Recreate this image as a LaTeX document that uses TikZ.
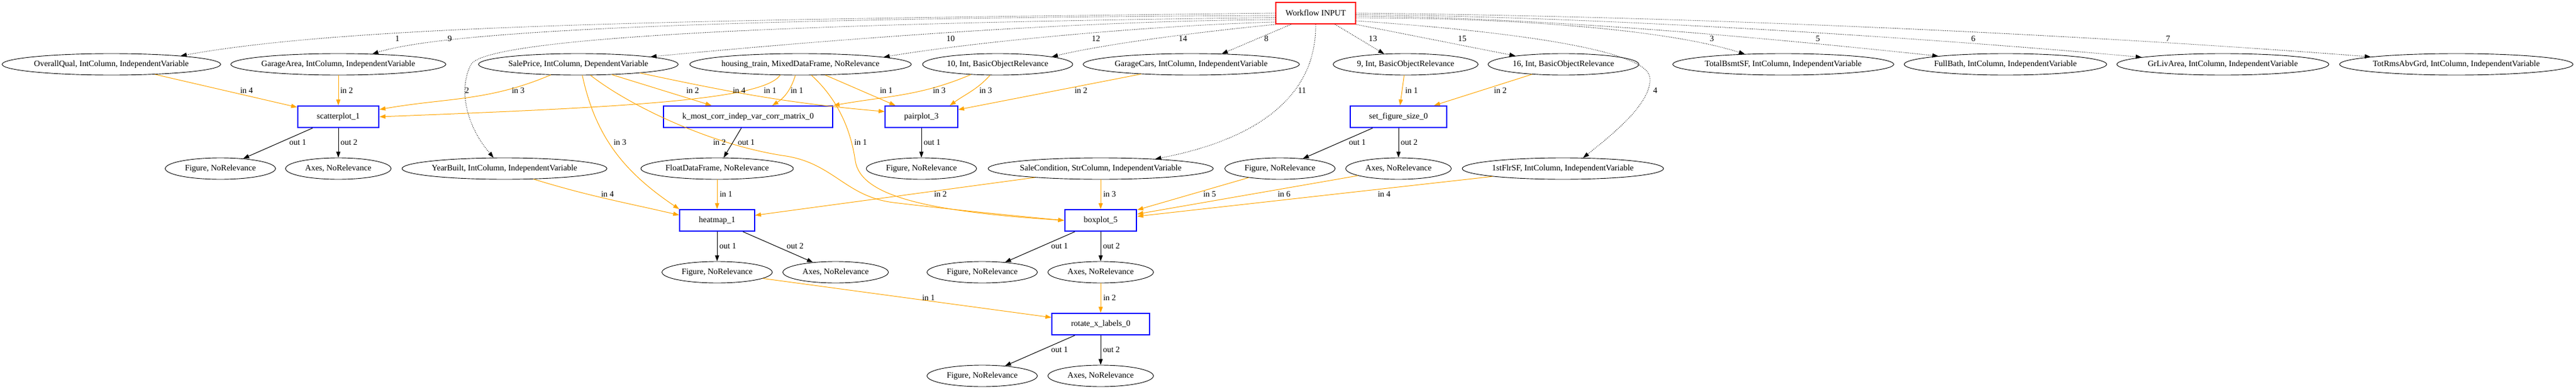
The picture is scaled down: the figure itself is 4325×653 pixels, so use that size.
\documentclass[tikz,border=0pt]{standalone}
\usepackage{fontspec}
\setmainfont{Liberation Serif}
\usetikzlibrary{arrows.meta,shapes.geometric}
\definecolor{feedorange}{RGB}{255,165,0}
\tikzset{
	data/.style={draw, ellipse, line width=0.9pt, minimum width=#1, minimum height=36pt, inner xsep=-4pt, inner ysep=0pt},
	data/.default=185pt,
	func/.style={draw=blue, line width=2pt, minimum height=36pt, inner xsep=32pt},
	wfbox/.style={draw=red, line width=2pt, minimum height=36pt, inner xsep=16pt},
	feed/.style={draw=feedorange, line width=1pt, -{Triangle[length=10pt,width=7pt]}},
	emit/.style={draw=black, line width=1pt, -{Triangle[length=10pt,width=7pt]}},
	flow/.style={draw=black, line width=0.9pt, dash pattern=on 1pt off 2pt, -{Triangle[length=10pt,width=7pt]}},
	lbl/.style={inner sep=0pt}
}
\begin{document}
\begin{tikzpicture}[x=1pt, y=1pt, every node/.style={font=\fontsize{14}{16}\selectfont}]
			\useasboundingbox (0,0) rectangle (4325,-653);
			\node (wf) at (2209,-22)       [wfbox] {Workflow INPUT};
			\node (oq) at (187,-108)       [data=367pt] {OverallQual, IntColumn, IndependentVariable};
			\node (ga) at (568,-108)       [data=361pt] {GarageArea, IntColumn, IndependentVariable};
			\node (sp) at (971,-108)       [data=335pt] {SalePrice, IntColumn, DependentVariable};
			\node (ht) at (1344,-108)      [data=372pt] {housing\_train, MixedDataFrame, NoRelevance};
			\node (i10) at (1675,-108)     [data=252pt] {10, Int, BasicObjectRelevance};
			\node (gc) at (2000,-108)      [data=363pt] {GarageCars, IntColumn, IndependentVariable};
			\node (i9) at (2360,-108)      [data=243pt] {9, Int, BasicObjectRelevance};
			\node (i16) at (2625,-108)     [data=253pt] {16, Int, BasicObjectRelevance};
			\node (tb) at (2994,-108)      [data=371pt] {TotalBsmtSF, IntColumn, IndependentVariable};
			\node (fb) at (3367,-108)      [data=340pt] {FullBath, IntColumn, IndependentVariable};
			\node (gl) at (3732,-108)      [data=356pt] {GrLivArea, IntColumn, IndependentVariable};
			\node (tr) at (4124,-108)      [data=392pt] {TotRmsAbvGrd, IntColumn, IndependentVariable};
			\node (scat) at (568,-196)     [func] {scatterplot\_1};
			\node (kmost) at (1256,-196)   [func] {k\_most\_corr\_indep\_var\_corr\_matrix\_0};
			\node (pair) at (1547,-196)    [func] {pairplot\_3};
			\node (setfig) at (2348,-196)  [func] {set\_figure\_size\_0};
			\node (fig1) at (370,-283)     [data] {Figure, NoRelevance};
			\node (ax1) at (568,-283)      [data=177pt] {Axes, NoRelevance};
			\node (yb) at (847,-283)       [data=344pt] {YearBuilt, IntColumn, IndependentVariable};
			\node (fdf) at (1204,-283)     [data=256pt] {FloatDataFrame, NoRelevance};
			\node (fig3) at (1547,-283)    [data] {Figure, NoRelevance};
			\node (sc) at (1848,-283)      [data=378pt] {SaleCondition, StrColumn, IndependentVariable};
			\node (fig0) at (2149,-283)    [data] {Figure, NoRelevance};
			\node (ax0) at (2348,-283)     [data=177pt] {Axes, NoRelevance};
			\node (fl) at (2624,-283)      [data=338pt] {1stFlrSF, IntColumn, IndependentVariable};
			\node (heat) at (1204,-370)    [func] {heatmap\_1};
			\node (box) at (1848,-370)     [func] {boxplot\_5};
			\node (fig2) at (1204,-457)    [data] {Figure, NoRelevance};
			\node (ax2) at (1403,-457)     [data=177pt] {Axes, NoRelevance};
			\node (fig5) at (1649,-457)    [data] {Figure, NoRelevance};
			\node (ax5) at (1848,-457)     [data=177pt] {Axes, NoRelevance};
			\node (rot) at (1848,-544)     [func] {rotate\_x\_labels\_0};
			\node (figr) at (1649,-631)    [data] {Figure, NoRelevance};
			\node (axr) at (1848,-631)     [data=177pt] {Axes, NoRelevance};
			\draw[flow] (wf.west) .. controls (1200,-33) and (600,-40) .. (oq.7) node[lbl] at (667,-65) {1};
			\draw[flow] ([yshift=-4pt]wf.west) .. controls (1300,-30) and (760,-48) .. (ga.17) node[lbl] at (755,-65) {9};
			\draw[flow] ([yshift=-7.5pt]wf.west) .. controls (1400,-38) and (805,-60) .. (790,-110) .. controls (770,-150) and (782,-210) .. (yb.135) node[lbl] at (784,-152) {2};
			\draw[flow] ([yshift=-11pt]wf.west) .. controls (1800,-35) and (1400,-66) .. (sp.6) node[lbl] at (1596,-65) {10};
			\draw[flow] ([yshift=-15pt]wf.west) .. controls (1950,-42) and (1650,-68) .. (ht.5) node[lbl] at (1840,-65) {12};
			\draw[flow] (wf.south west) .. controls (2000,-55) and (1850,-75) .. (i10.8) node[lbl] at (1986,-65) {14};
			\draw[flow] ([xshift=26pt]wf.south west) -- (gc.19) node[lbl] at (2126,-65) {8};
			\draw[flow] (wf.south) .. controls (2210,-180) and (2080,-240) .. (sc.10) node[lbl] at (2186,-152) {11};
			\draw[flow] ([xshift=-35pt]wf.south east) -- (i9.154) node[lbl] at (2305,-65) {13};
			\draw[flow] (wf.south east) -- (i16.170) node[lbl] at (2455,-65) {15};
			\draw[flow] ([yshift=-13pt]wf.east) .. controls (2500,-50) and (2765,-80) .. (2770,-130) .. controls (2775,-175) and (2695,-235) .. (fl.28) node[lbl] at (2779,-152) {4};
			\draw[flow] ([yshift=-8pt]wf.east) .. controls (2550,-30) and (2800,-50) .. (tb.165) node[lbl] at (2874,-65) {3};
			\draw[flow] ([yshift=-5pt]wf.east) .. controls (2600,-30) and (2950,-62) .. (fb.173) node[lbl] at (3052,-65) {5};
			\draw[flow] ([yshift=-2.5pt]wf.east) .. controls (2700,-28) and (3250,-65) .. (gl.175) node[lbl] at (3313,-65) {6};
			\draw[flow] (wf.east) .. controls (2900,-28) and (3550,-62) .. (tr.175) node[lbl] at (3640,-65) {7};
			\draw[feed] (oq) -- (scat) node[lbl] at (414,-152) {in 4};
			\draw[feed] (ga) -- (scat) node[lbl] at (582,-152) {in 2};
			\draw[feed] (sp.201) to[out=203,in=10] (scat.10) node[lbl] at (870,-152) {in 3};
			\draw[feed] (ht.208) .. controls (1280,-168) and (1050,-180) .. (scat.east) node[lbl] at (1293,-152) {in 1};
			\draw[feed] (sp) -- (kmost) node[lbl] at (1163,-152) {in 2};
			\draw[feed] (ht) to[bend left=20] (kmost) node[lbl] at (1338,-152) {in 1};
			\draw[feed] (i10.201) to[out=203,in=10] (kmost.north east) node[lbl] at (1577,-152) {in 3};
			\draw[feed] (sp.-8) to[out=-12,in=175] (pair.172) node[lbl] at (1241,-152) {in 4};
			\draw[feed] (ht) -- (pair) node[lbl] at (1488,-152) {in 1};
			\draw[feed] (i10.235) to[out=228,in=36] ([xshift=-14pt]pair.north east) node[lbl] at (1655,-152) {in 3};
			\draw[feed] (gc) -- (pair) node[lbl] at (1815,-152) {in 2};
			\draw[feed] (i9) -- (setfig) node[lbl] at (2370,-152) {in 1};
			\draw[feed] (i16) -- (setfig) node[lbl] at (2519,-152) {in 2};
			\draw[feed] (fdf) -- (heat) node[lbl] at (1219,-326) {in 1};
			\draw[feed] (sc) -- (heat) node[lbl] at (1579,-326) {in 2};
			\draw[feed] (sp.-70) to[out=-78,in=146] (heat.north west) node[lbl] at (1041,-239) {in 3};
			\draw[feed] (yb.-20) to[out=-17,in=167] (heat.172) node[lbl] at (1020,-326) {in 4};
			\draw[feed] (ht.-45) .. controls (1405,-165) and (1428,-215) .. (1436,-270) .. controls (1445,-330) and (1560,-355) .. (box.west) node[lbl] at (1445,-239) {in 1};
			\draw[feed] (sp.-42) .. controls (1060,-180) and (1200,-245) .. (1320,-262) .. controls (1400,-275) and (1420,-330) .. (1500,-340) .. controls (1600,-352) and (1700,-362) .. (box.west) node[lbl] at (1208,-239) {in 2};
			\draw[feed] (sc) -- (box) node[lbl] at (1863,-326) {in 3};
			\draw[feed] (fl) -- (box) node[lbl] at (2324,-326) {in 4};
			\draw[feed] (fig0) -- (box) node[lbl] at (2031,-326) {in 5};
			\draw[feed] (ax0) -- (box) node[lbl] at (2156,-326) {in 6};
			\draw[feed] (fig2) -- (rot) node[lbl] at (1559,-500) {in 1};
			\draw[feed] (ax5) -- (rot) node[lbl] at (1863,-500) {in 2};
			\draw[emit] (scat) -- (fig1) node[lbl] at (500,-239) {out 1};
			\draw[emit] (scat) -- (ax1) node[lbl] at (586,-239) {out 2};
			\draw[emit] (kmost) -- (fdf) node[lbl] at (1253,-239) {out 1};
			\draw[emit] (pair) -- (fig3) node[lbl] at (1565,-239) {out 1};
			\draw[emit] (setfig) -- (fig0) node[lbl] at (2279,-239) {out 1};
			\draw[emit] (setfig) -- (ax0) node[lbl] at (2366,-239) {out 2};
			\draw[emit] (heat) -- (fig2) node[lbl] at (1222,-413) {out 1};
			\draw[emit] (heat) -- (ax2) node[lbl] at (1335,-413) {out 2};
			\draw[emit] (box) -- (fig5) node[lbl] at (1779,-413) {out 1};
			\draw[emit] (box) -- (ax5) node[lbl] at (1866,-413) {out 2};
			\draw[emit] (rot) -- (figr) node[lbl] at (1779,-587) {out 1};
			\draw[emit] (rot) -- (axr) node[lbl] at (1866,-587) {out 2};
\end{tikzpicture}
\end{document}
